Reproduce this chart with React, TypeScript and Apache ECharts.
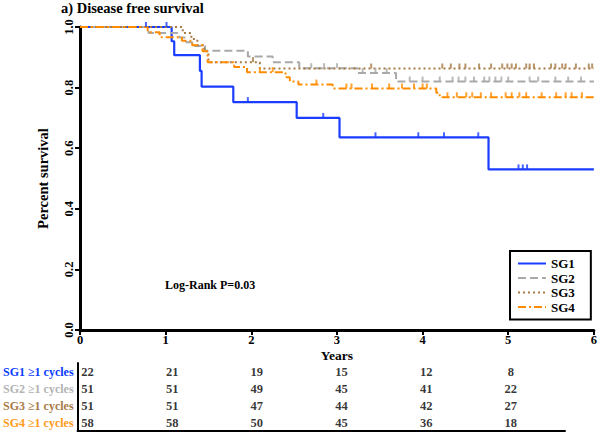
import React, { useEffect, useRef } from "react";
import * as echarts from "echarts";

const FONT = "'Liberation Serif', 'Times New Roman', 'DejaVu Serif', serif";

// Kaplan–Meier step data (time in years, survival proportion)
const sg1Times = [0, 1.07, 1.1, 1.4, 1.42, 1.79, 2.53, 3.03, 4.77];
const sg1Surv = [1, 0.953, 0.907, 0.855, 0.803, 0.752, 0.7, 0.636, 0.53];
const sg1Censor = [0.77, 1.01, 1.96, 2.84, 3.45, 3.95, 4.25, 4.65, 5.12, 5.17, 5.22];

const sg2Times = [0, 0.8, 1.16, 1.24, 1.34, 1.46, 1.96, 2.25, 2.56, 3.24, 3.69];
const sg2Surv = [1, 0.98, 0.965, 0.95, 0.937, 0.922, 0.903, 0.884, 0.864, 0.848, 0.82];
const sg2Censor = [2.7, 2.85, 3.0, 3.3, 3.45, 3.58, 3.85, 4.0, 4.2, 4.35, 4.42, 4.5, 4.6, 4.72, 4.78, 4.85, 4.92, 5.0, 5.25, 5.35, 5.55, 5.7, 5.85];

const sg3Times = [0, 1.2, 1.3, 1.37, 1.45, 1.5, 2.1];
const sg3Surv = [1, 0.98, 0.96, 0.94, 0.92, 0.884, 0.863];
const sg3Censor = [2.02, 3.4, 4.23, 4.33, 4.43, 4.5, 4.66, 4.8, 4.93, 4.99, 5.04, 5.09, 5.21, 5.25, 5.3, 5.5, 5.55, 5.63, 5.67, 5.79, 5.94, 5.98];

const sg4Times = [0, 0.79, 0.93, 1.19, 1.31, 1.43, 1.49, 1.8, 1.95, 2.4, 2.45, 2.55, 2.95, 4.16, 4.2];
const sg4Surv = [1, 0.983, 0.966, 0.955, 0.94, 0.92, 0.884, 0.868, 0.851, 0.834, 0.82, 0.81, 0.797, 0.783, 0.768];
const sg4Censor = [2.1, 2.25, 2.76, 3.11, 3.17, 3.41, 3.61, 3.76, 3.9, 4.0, 4.05, 4.29, 4.4, 4.51, 4.58, 4.68, 4.8, 4.97, 5.04, 5.13, 5.21, 5.39, 5.56, 5.67, 5.74, 5.86];

// Number at risk table
const riskYears = [0, 1, 2, 3, 4, 5];
const sg1Risk = [22, 21, 19, 15, 12, 8];
const sg2Risk = [51, 51, 49, 45, 41, 22];
const sg3Risk = [51, 51, 47, 44, 42, 27];
const sg4Risk = [58, 58, 50, 45, 36, 18];

const xTicks = [0, 1, 2, 3, 4, 5, 6];
const yTicks = [0, 0.2, 0.4, 0.6, 0.8, 1.0];

const groups = [
  { name: "SG1", times: sg1Times, surv: sg1Surv, censor: sg1Censor, risk: sg1Risk, color: "#1a3dff", label: "#0a3cff", width: 2.2, type: "solid" as any },
  { name: "SG2", times: sg2Times, surv: sg2Surv, censor: sg2Censor, risk: sg2Risk, color: "#a9a9a9", label: "#b3b3b3", width: 2, type: [8, 4] as any },
  { name: "SG3", times: sg3Times, surv: sg3Surv, censor: sg3Censor, risk: sg3Risk, color: "#a87a45", label: "#a87a45", width: 2, type: [2, 3] as any },
  { name: "SG4", times: sg4Times, surv: sg4Surv, censor: sg4Censor, risk: sg4Risk, color: "#ff8c00", label: "#ff9a1a", width: 2, type: [8, 3, 2, 3] as any },
];

function survAt(times: number[], surv: number[], t: number) {
  let v = surv[0];
  for (let i = 0; i < times.length; i++) if (times[i] <= t) v = surv[i];
  return v;
}

export default function App() {
  const ref = useRef<HTMLDivElement>(null);
  useEffect(() => {
    document.body.style.margin = "0";
    const chart = echarts.init(ref.current!, null, { renderer: "svg" });
    const xMax = xTicks[xTicks.length - 1];
    const yMax = yTicks[yTicks.length - 1];
    const series: any[] = [];
    groups.forEach((g) => {
      series.push({
        name: g.name,
        type: "line",
        step: "end",
        xAxisIndex: 0,
        yAxisIndex: 0,
        symbol: "none",
        data: g.times.map((t, i) => [t, g.surv[i]]).concat([[xMax, g.surv[g.surv.length - 1]]]),
        lineStyle: { color: g.color, width: g.width, type: g.type },
        itemStyle: { color: g.color },
        z: 3,
      });
    });
    groups.forEach((g) => {
      series.push({
        name: g.name + " censored",
        type: "scatter",
        xAxisIndex: 0,
        yAxisIndex: 0,
        symbol: "rect",
        symbolSize: [2, 5],
        symbolOffset: [0, -2.5],
        data: g.censor.map((t) => [t, survAt(g.times, g.surv, t)]),
        itemStyle: { color: g.color },
        z: 3,
      });
    });
    groups.forEach((g) => {
      series.push({
        name: g.name + " at risk",
        type: "scatter",
        xAxisIndex: 1,
        yAxisIndex: 1,
        symbolSize: 1,
        itemStyle: { color: "rgba(0,0,0,0)" },
        data: riskYears.map((y, i) => [y, g.name, g.risk[i]]),
        label: {
          show: true,
          position: "inside",
          formatter: (p: any) => String(p.value[2]),
          color: "#000",
          fontFamily: FONT,
          fontWeight: "bold",
          fontSize: 12.5,
        },
      });
    });

    const rich: any = {};
    groups.forEach((g) => {
      rich[g.name] = { color: g.label, fontFamily: FONT, fontWeight: "bold", fontSize: 12 };
    });

    chart.setOption({
      animation: false,
      backgroundColor: "#fff",
      textStyle: { fontFamily: FONT },
      grid: [
        { left: 80, right: 5, top: 27, bottom: 102 },
        { left: 75, right: 35, top: 363, height: 68 },
      ],
      xAxis: [
        {
          gridIndex: 0,
          type: "value",
          min: 0,
          max: xMax,
          interval: 1,
          name: "Years",
          nameLocation: "middle",
          nameGap: 18,
          nameMoveOverlap: false,
          nameTextStyle: { fontFamily: FONT, fontWeight: "bold", fontSize: 13.5, color: "#000" },
          axisLine: { show: true, onZero: false, lineStyle: { color: "#000", width: 3 } },
          axisTick: { show: true, length: 5, lineStyle: { color: "#000", width: 2 } },
          axisLabel: { margin: 3, color: "#000", fontFamily: FONT, fontWeight: "bold", fontSize: 12.5 },
          splitLine: { show: false },
        },
        {
          gridIndex: 1,
          type: "value",
          min: -0.1175,
          max: 5.64,
          axisLine: { show: true, onZero: false, lineStyle: { color: "#000", width: 2 } },
          axisTick: { show: false },
          axisLabel: { show: false },
          splitLine: { show: false },
        },
      ],
      yAxis: [
        {
          gridIndex: 0,
          type: "value",
          min: 0,
          max: yMax,
          interval: 0.2,
          name: "Percent survival",
          nameLocation: "middle",
          nameGap: 30,
          nameRotate: 90,
          nameTextStyle: { fontFamily: FONT, fontWeight: "bold", fontSize: 14.5, color: "#000" },
          axisLine: { show: true, onZero: false, lineStyle: { color: "#000", width: 3 } },
          axisTick: { show: true, length: 5, lineStyle: { color: "#000", width: 2 } },
          axisLabel: {
            rotate: 90,
            margin: 5,
            color: "#000",
            fontFamily: FONT,
            fontWeight: "bold",
            fontSize: 12.5,
            formatter: (v: number) => v.toFixed(1),
          },
          splitLine: { show: false },
        },
        {
          gridIndex: 1,
          type: "category",
          inverse: true,
          data: groups.map((g) => g.name),
          axisLine: { show: true, onZero: false, lineStyle: { color: "#000", width: 2 } },
          axisTick: { show: false },
          axisLabel: {
            margin: 4,
            formatter: (v: string) => `{${v}|${v} ≥1 cycles}`,
            rich,
          },
          splitLine: { show: false },
        },
      ],
      legend: {
        data: groups.map((g) => g.name),
        orient: "vertical",
        left: 510,
        top: 251,
        itemWidth: 28,
        itemHeight: 12,
        itemGap: 1.5,
        padding: [6, 16, 6, 7],
        borderColor: "#000",
        borderWidth: 2,
        itemStyle: { opacity: 0 },
        textStyle: { fontFamily: FONT, fontWeight: "bold", fontSize: 13, color: "#000" },
      },
      graphic: [
        {
          type: "text",
          left: 61,
          top: 0,
          style: { text: "a) Disease free survival", fontFamily: FONT, fontWeight: "bold", fontSize: 14.5, fill: "#000" },
        },
        {
          type: "text",
          left: 165,
          top: 279,
          style: { text: "Log-Rank P=0.03", fontFamily: FONT, fontWeight: "bold", fontSize: 12, fill: "#000" },
        },
      ],
      series,
    });
    return () => chart.dispose();
  }, []);
  return <div ref={ref} style={{ width: 600, height: 432 }} />;
}
